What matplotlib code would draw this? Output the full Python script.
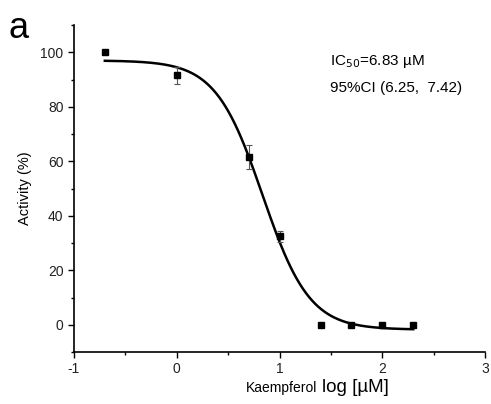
import numpy as np
import matplotlib
matplotlib.use("Agg")
import matplotlib.pyplot as plt
from matplotlib.ticker import MultipleLocator

plt.rcParams['font.family'] = ['Liberation Sans', 'DejaVu Sans']
plt.rcParams['axes.unicode_minus'] = False

# data
log_conc = [-0.7, 0.0, 0.7, 1.0, 1.4, 1.7, 2.0, 2.3]
activity = [100.0, 91.5, 61.5, 32.5, 0.0, 0.0, 0.0, 0.0]
err = [0.0, 3.0, 4.5, 2.0, 0.0, 0.0, 0.0, 0.0]

# fitted 4PL parameters
fit_top = 97.0
fit_bottom = -1.8
fit_logic50 = np.log10(6.83)
fit_hill = 1.9

fig = plt.figure(figsize=(4.91, 4.04), dpi=100)
ax = fig.add_axes([0.1507, 0.1287, 0.8373, 0.8093])

xs = np.linspace(min(log_conc), max(log_conc), 300)
ys = fit_bottom + (fit_top - fit_bottom) / (1 + 10 ** ((xs - fit_logic50) * fit_hill))
ax.plot(xs, ys, color='black', lw=1.8)

ax.errorbar(log_conc, activity, yerr=err, fmt='s', color='black', ms=5,
            ecolor='#555555', elinewidth=0.8, capsize=2.5, capthick=0.8)

ax.set_xlim(-1, 3)
ax.set_ylim(-10, 110)
ax.xaxis.set_major_locator(MultipleLocator(1))
ax.xaxis.set_minor_locator(MultipleLocator(0.5))
ax.yaxis.set_minor_locator(MultipleLocator(10))
ax.set_yticks([0, 20, 40, 60, 80, 100])
ax.spines['top'].set_visible(False)
ax.spines['right'].set_visible(False)
for s in ('left', 'bottom'):
    ax.spines[s].set_linewidth(1.2)
ax.tick_params(which='major', direction='out', length=4, width=1, labelsize=10,
               colors='black', labelcolor='#222222')
ax.tick_params(which='minor', direction='out', length=2.5, width=1)

ax.set_ylabel('Activity (%)', fontsize=10.5, labelpad=6)
fig.text(0.647, 0.03, 'Kaempferol', fontsize=10, ha='right', va='baseline')
fig.text(0.655, 0.03, 'log [µM]', fontsize=13.5, ha='left', va='baseline')

fig.text(0.672, 0.847, 'IC$_{50}$=6.83 µM', fontsize=11, va='center')
fig.text(0.672, 0.782, '95%CI (6.25,  7.42)', fontsize=11, va='center')

fig.text(0.018, 0.906, 'a', fontsize=26, va='baseline')

fig.savefig('out.png', dpi=100)
